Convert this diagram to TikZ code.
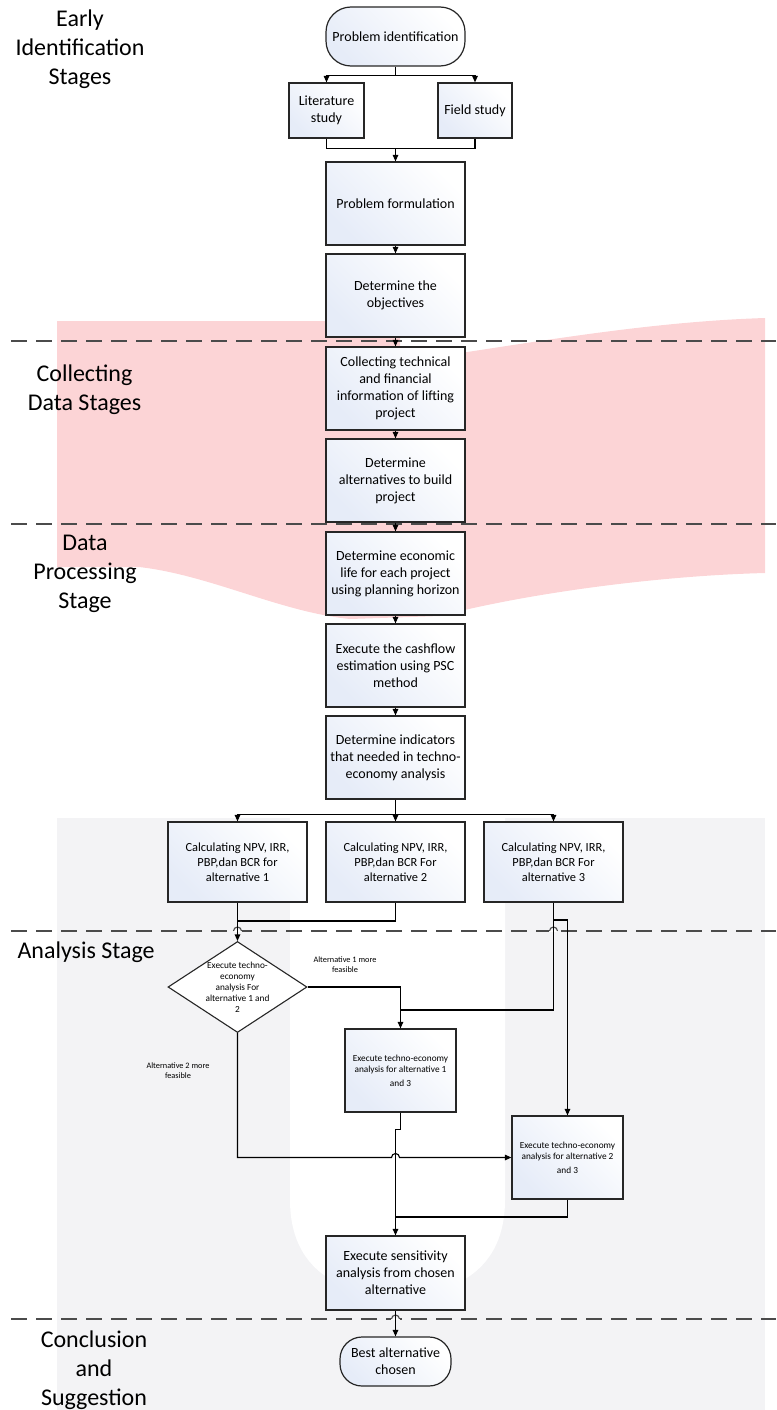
\documentclass[tikz,border=0pt]{standalone}
\usepackage{fontspec}
\setmainfont{Carlito}
\usetikzlibrary{arrows.meta,shapes.geometric}
\newcommand\fsz[2]{\fontsize{#1}{#2}\selectfont}
\definecolor{bfill}{RGB}{230,236,248}
\definecolor{wmpink}{RGB}{252,212,214}
\definecolor{wmgrey}{RGB}{243,243,245}
\definecolor{dashgrey}{RGB}{75,75,75}
\begin{document}
\begin{tikzpicture}[x=1pt,y=-1pt,
  box/.style={draw=black!85, line width=1.2pt, inner sep=0pt, align=center,
    top color=white, bottom color=bfill, shading angle=-45},
  mbox/.style={box, minimum width=139pt, minimum height=83pt, font=\fsz{14}{17}},
  cbox/.style={box, minimum width=139pt, minimum height=80pt, font=\fsz{12.4}{15}},
  sbox/.style={box, minimum width=111pt, minimum height=83pt, font=\fsz{9.3}{11}},
  term/.style={box, font=\fsz{14}{17}},
  stage/.style={align=center, font=\fsz{24}{29}},
  lbl/.style={align=center, font=\fsz{8.3}{10}},
  conn/.style={draw=black, line width=1.1pt},
  arr/.style={conn, -{Triangle[length=6.5pt,width=5.5pt]}},
  dashline/.style={draw=dashgrey, line width=1.4pt, dash pattern=on 16pt off 9pt},
  hop/.style={draw=dashgrey, line width=1.1pt}
]
\useasboundingbox (0,0) rectangle (776,1410);
% ---- watermark ----
\fill[wmpink] (57,321) -- (400,321) -- (400,362) .. controls (520,345) and (640,322) .. (765,318)
  -- (765,573) .. controls (650,576) and (520,595) .. (440,616) -- (350,619)
  .. controls (280,612) and (210,575) .. (139,567) -- (57,567) -- cycle;
\fill[wmgrey] (57,818) rectangle (765,1410);
\fill[white] (290,818) -- (290,1200) .. controls (290,1270) and (340,1295) .. (397.5,1295)
  .. controls (455,1295) and (505,1270) .. (505,1200) -- (505,818) -- cycle;
% ---- stage separators ----
\draw[dashline] (11,341) -- (776,341);
\draw[dashline] (11,524) -- (776,524);
\draw[dashline] (11,931) -- (776,931);
\draw[dashline] (11,1319) -- (776,1319);
\foreach \hx/\hy in {237.5/931, 553.5/931, 395.5/1319}{
  \fill[white] (\hx-4.6,\hy-1.2) rectangle (\hx+4.6,\hy+1.2);
  \draw[hop] (\hx-4,\hy) arc[start angle=180,end angle=0,radius=4pt];
}
% ---- stage labels ----
\node[stage] (s1) at (80,49) {Early\\Identification\\Stages};
\node[stage] (s2) at (84.5,390) {Collecting\\Data Stages};
\node[stage] (s3) at (85,574) {Data\\Processing\\Stage};
\node[stage, anchor=west] (s4) at (14,952) {Analysis Stage};
\node[stage] (s5) at (94,1370) {Conclusion\\and\\Suggestion};
% ---- nodes ----
\node[term, minimum width=139pt, minimum height=59pt, rounded corners=25pt] (pi) at (395.5,36.5) {Problem identification};
\node[box, font=\fsz{14}{17}, minimum width=75pt, minimum height=55pt] (lit) at (326.5,110.5) {Literature\\study};
\node[box, font=\fsz{14}{17}, minimum width=74pt, minimum height=55pt] (field) at (475,110.5) {Field study};
\node[mbox] (pf) at (395.5,203.5) {Problem formulation};
\node[mbox] (do) at (395.5,295.5) {Determine the\\objectives};
\node[mbox] (ct) at (395.5,388.5) {Collecting technical\\and financial\\information of lifting\\project};
\node[mbox] (da) at (395.5,480.5) {Determine\\alternatives to build\\project};
\node[mbox] (de) at (395.5,573.5) {Determine economic\\life for each project\\using planning horizon};
\node[mbox] (ec) at (395.5,665.5) {Execute the cashflow\\estimation using PSC\\method};
\node[mbox] (di) at (395.5,757.5) {Determine indicators\\that needed in techno-\\economy analysis};
\node[cbox] (c1) at (237.5,862) {Calculating NPV, IRR,\\PBP,dan BCR for\\alternative 1};
\node[cbox] (c2) at (395.5,862) {Calculating NPV, IRR,\\PBP,dan BCR For\\alternative 2};
\node[cbox] (c3) at (553.5,862) {Calculating NPV, IRR,\\PBP,dan BCR For\\alternative 3};
\node[diamond, draw=black!85, line width=1.1pt, fill=white, inner sep=0pt,
  minimum width=139pt, minimum height=91pt] (dia) at (237.5,987) {};
\node[align=center, font=\fsz{9.3}{11}] (diat) at (dia.center) {Execute techno-\\economy\\analysis For\\alternative 1 and\\2};
\node[sbox] (b13) at (400.5,1070.5) {Execute techno-economy\\analysis for alternative 1\\[3pt]and 3};
\node[sbox] (b23) at (567.5,1157.5) {Execute techno-economy\\analysis for alternative 2\\[3pt]and 3};
\node[mbox, minimum height=74pt] (sens) at (395.5,1273) {Execute sensitivity\\analysis from chosen\\alternative};
\node[term, minimum width=111pt, minimum height=49pt, rounded corners=22pt] (best) at (395.5,1361.5) {Best alternative\\chosen};
\node[lbl] (l1) at (345,965) {Alternative 1 more\\feasible};
\node[lbl] (l2) at (178,1071) {Alternative 2 more\\feasible};
% ---- coordinates ----
\coordinate (j1) at (237.5,921);
\coordinate (j3) at (553.5,920);
\coordinate (j4) at (553.5,1010);
\coordinate (j6) at (395.5,1217);
\coordinate (h1) at (391.5,1157.5);
% ---- connectors ----
\draw[conn] (pi.south) -- ++(0,8.5) coordinate (b1);
\draw[arr] (b1) -| (lit.north);
\draw[arr] (b1) -| (field.north);
\draw[conn] (lit.south) -- ++(0,10) coordinate (m1) -| (field.south);
\draw[arr] (m1 -| pf.north) -- (pf.north);
\draw[arr] (pf) -- (do);
\draw[arr] (do) -- (ct);
\draw[arr] (ct) -- (da);
\draw[arr] (da) -- (de);
\draw[arr] (de) -- (ec);
\draw[arr] (ec) -- (di);
\draw[conn] (di.south) -- ++(0,14.5) coordinate (b2);
\draw[arr] (b2) -| (c1.north);
\draw[arr] (b2) -- (c2.north);
\draw[arr] (b2) -| (c3.north);
\draw[arr] (c1.south) -- (dia.north);
\draw[conn] (c2.south) |- (j1);
\draw[conn] (c3.south) -- (j3);
\draw[arr] (j3) -| (b23.north);
\draw[conn] (j3) -- (j4) -- (j4 -| b13.north);
\draw[arr] (dia.east) -| (b13.north);
\draw[arr] (dia.south) |- (h1) arc[start angle=180,end angle=0,radius=4pt] -- (b23.west);
\draw[arr] (b13.south) -- ++(0,17) coordinate (j5) -| (sens.north);
\draw[conn] (b23.south) |- (j6);
\draw[arr] (sens) -- (best);
\end{tikzpicture}
\end{document}
